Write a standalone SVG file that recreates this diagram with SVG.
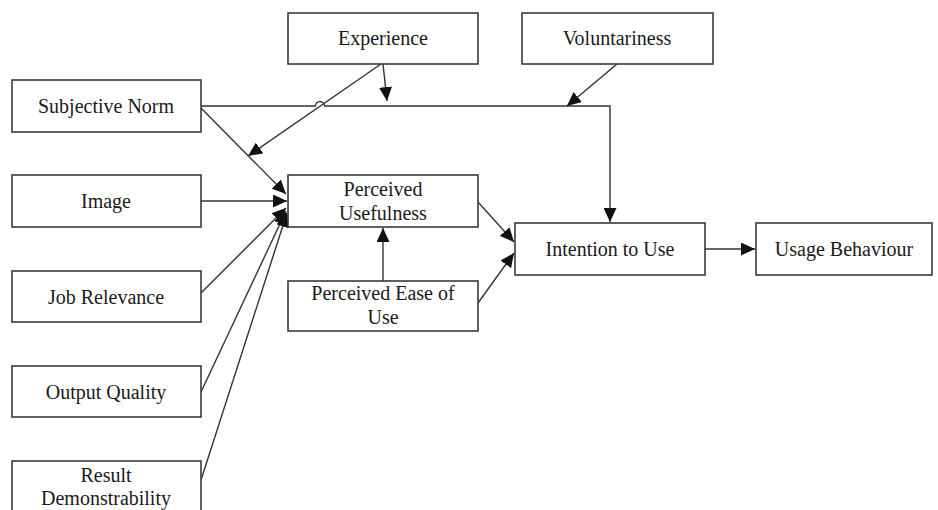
<svg xmlns="http://www.w3.org/2000/svg" width="938" height="510" viewBox="0 0 938 510">
  <style>
    .box { fill: #ffffff; stroke: #3a3a3a; stroke-width: 1.6; }
    .lbl { font-family: "Liberation Serif", "Times New Roman", serif; font-size: 20px; fill: #1a1a1a; text-anchor: middle; }
    .edge { fill: none; stroke: #333333; stroke-width: 1.4; }
  </style>
  <defs>
    <marker id="arrow" markerUnits="userSpaceOnUse" markerWidth="15" markerHeight="13" refX="14" refY="6.5" orient="auto">
      <path d="M0,0 L14,6.5 L0,13 z" fill="#111111"/>
    </marker>
  </defs>
  <rect width="938" height="510" fill="#ffffff"/>

  <!-- connectors -->
  <g id="connectors">
    <!-- Subjective Norm to Intention to Use, hopping over the Experience line -->
    <path class="edge" d="M201,106 H315.5 A4.5,4.5 0 0 1 324.5,106 H610 V222" marker-end="url(#arrow)"/>
    <!-- Experience moderates SN -> Intention -->
    <path class="edge" d="M383,64 L387,101" marker-end="url(#arrow)"/>
    <!-- Experience moderates SN -> Usefulness -->
    <path class="edge" d="M381,64 L248,156" marker-end="url(#arrow)"/>
    <!-- Voluntariness moderates SN -> Intention -->
    <path class="edge" d="M617,64 L567,106" marker-end="url(#arrow)"/>
    <!-- determinants of Perceived Usefulness -->
    <path class="edge" d="M201,108 L286,194" marker-end="url(#arrow)"/>
    <path class="edge" d="M201,201 H287" marker-end="url(#arrow)"/>
    <path class="edge" d="M201,293 L286,208" marker-end="url(#arrow)"/>
    <path class="edge" d="M201,392 L286,211" marker-end="url(#arrow)"/>
    <path class="edge" d="M201,480 L287,213" marker-end="url(#arrow)"/>
    <!-- Ease of Use to Usefulness -->
    <path class="edge" d="M383,281 V228" marker-end="url(#arrow)"/>
    <!-- to Intention to Use -->
    <path class="edge" d="M478,202 L514,242" marker-end="url(#arrow)"/>
    <path class="edge" d="M478,303 L514,253" marker-end="url(#arrow)"/>
    <!-- Intention to Use to Usage Behaviour -->
    <path class="edge" d="M705,249 H755" marker-end="url(#arrow)"/>
  </g>

  <!-- nodes -->
  <g id="experience">
    <rect class="box" x="288" y="13" width="190" height="51"/>
    <text class="lbl" x="383" y="45">Experience</text>
  </g>
  <g id="voluntariness">
    <rect class="box" x="522" y="13" width="191" height="51"/>
    <text class="lbl" x="617" y="45">Voluntariness</text>
  </g>
  <g id="subjective-norm">
    <rect class="box" x="12" y="80" width="189" height="52"/>
    <text class="lbl" x="106" y="113">Subjective Norm</text>
  </g>
  <g id="image">
    <rect class="box" x="12" y="175" width="189" height="52"/>
    <text class="lbl" x="106" y="208">Image</text>
  </g>
  <g id="job-relevance">
    <rect class="box" x="12" y="271" width="189" height="51"/>
    <text class="lbl" x="106" y="304">Job Relevance</text>
  </g>
  <g id="output-quality">
    <rect class="box" x="12" y="366" width="189" height="51"/>
    <text class="lbl" x="106" y="399">Output Quality</text>
  </g>
  <g id="result-demonstrability">
    <rect class="box" x="12" y="461" width="189" height="60"/>
    <text class="lbl" x="106" y="482">Result</text>
    <text class="lbl" x="106" y="505">Demonstrability</text>
  </g>
  <g id="perceived-usefulness">
    <rect class="box" x="288" y="175" width="190" height="52"/>
    <text class="lbl" x="383" y="196">Perceived</text>
    <text class="lbl" x="383" y="220">Usefulness</text>
  </g>
  <g id="perceived-ease-of-use">
    <rect class="box" x="288" y="281" width="190" height="50"/>
    <text class="lbl" x="383" y="300">Perceived Ease of</text>
    <text class="lbl" x="383" y="324">Use</text>
  </g>
  <g id="intention-to-use">
    <rect class="box" x="515" y="223" width="190" height="52"/>
    <text class="lbl" x="610" y="256">Intention to Use</text>
  </g>
  <g id="usage-behaviour">
    <rect class="box" x="756" y="223" width="176" height="52"/>
    <text class="lbl" x="844" y="256">Usage Behaviour</text>
  </g>
</svg>
